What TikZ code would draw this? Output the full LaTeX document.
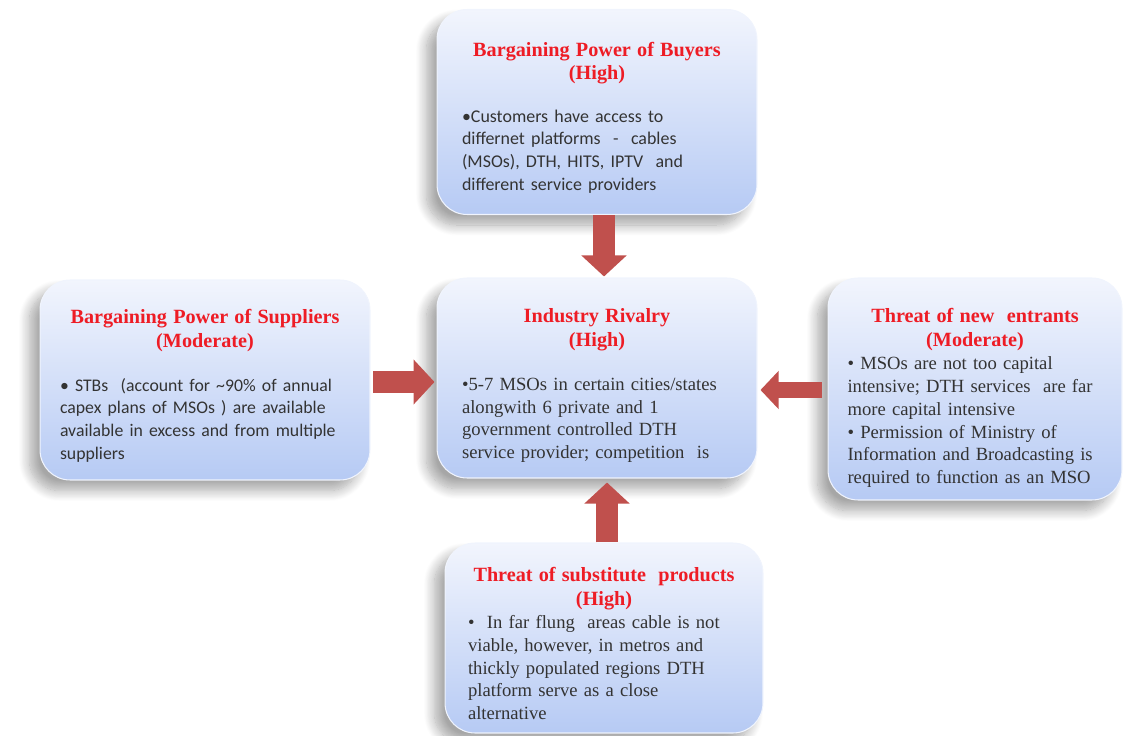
\documentclass[tikz,border=0pt]{standalone}
\usepackage{fontspec}
\setmainfont{Liberation Serif}
\newfontfamily\calibri{Carlito}
\usetikzlibrary{arrows.meta,shadows.blur}
\definecolor{boxtop}{HTML}{F2F5FD}
\definecolor{boxbot}{HTML}{B6CAF4}
\definecolor{forcered}{HTML}{EE1C25}
\definecolor{pointred}{HTML}{C0504D}
\definecolor{bodygray}{HTML}{333333}
\newcommand\forcetitle[2]{\par\vspace*{-\parskip}{\centering\color{forcered}\fontsize{11.5}{13.6}\selectfont\bfseries #1\\(#2)\par}}

\begin{document}
\begin{tikzpicture}
[x=0.02cm,y=-0.02cm,
 force/.style={rounded corners=0.6cm, top color=boxtop, bottom color=boxbot,
   draw=white!80!boxbot, line width=0.6pt, inner sep=0pt, align=left, text=bodygray,
   font=\fontsize{10.6}{13}\selectfont,
   blur shadow={shadow xshift=-6pt, shadow yshift=-6pt, shadow blur radius=6pt,
     shadow blur steps=14, shadow opacity=35}},
 pointer/.style={draw=pointred, line width=0.44cm, -{Triangle[width=0.88cm,length=0.42cm]}},
 slimpointer/.style={draw=pointred, line width=0.34cm, -{Triangle[width=0.74cm,length=0.36cm]}}]
\useasboundingbox (0,0) rectangle (1125,736);

\node[force, minimum width=6.4cm, minimum height=4.1cm, text width=5.4cm] (buyers) at (597,112)
  {\par\vspace*{1pt}\forcetitle{Bargaining Power of Buyers}{High}\vspace{11pt}
   {\calibri\fontsize{10.2}{13}\selectfont •Customers have access to\\
   differnet platforms~~-~~cables\\
   (MSOs), DTH, HITS, IPTV~ and\\
   different service providers}};
\node[force, minimum width=6.6cm, minimum height=4cm, text width=5.8cm] (suppliers) at (205,380)
  {\par\vspace*{1pt}\forcetitle{Bargaining Power of Suppliers}{Moderate}\vspace{12pt}
   {\calibri\fontsize{10.1}{13}\selectfont • STBs~ (account for \textasciitilde 90\% of annual\\
   capex plans of MSOs ) are available\\
   available in excess and from multiple\\
   suppliers}};
\node[force, minimum width=6.4cm, minimum height=4cm, text width=5.4cm] (rivalry) at (597,378)
  {\par\vspace*{3pt}\forcetitle{Industry Rivalry}{High}\vspace{12pt}
   •5-7 MSOs in certain cities/states\\
   alongwith 6 private and 1\\
   government controlled DTH\\
   service provider; competition~ is};
\node[force, minimum width=5.88cm, minimum height=4.44cm, text width=5.1cm] (entrants) at (975,389)
  {\par\vspace*{5pt}\forcetitle{Threat of new~ entrants}{Moderate}
   • MSOs are not too capital\\
   intensive; DTH services~ are far\\
   more capital intensive\\
   • Permission of Ministry of\\
   Information and Broadcasting is\\
   required to function as an MSO};
\node[force, minimum width=6.36cm, minimum height=3.8cm, text width=5.44cm] (substitutes) at (604,638)
  {\par\vspace*{1pt}\forcetitle{Threat of substitute~ products}{High}
   •~ In far flung~ areas cable is not\\
   viable, however, in metros and\\
   thickly populated regions DTH\\
   platform serve as a close\\
   alternative};

\coordinate (topaxis) at (604,0);
\coordinate (leftaxis) at (0,382);
\coordinate (rightaxis) at (0,390);
\coordinate (bottomaxis) at (607,0);
\draw[pointer] (buyers.south -| topaxis) -- ([yshift=0.02cm]rivalry.north -| topaxis);
\draw[pointer, shorten <=0.06cm] (suppliers.east |- leftaxis) -- ([xshift=-0.04cm]rivalry.west |- leftaxis);
\draw[slimpointer, shorten <=0.12cm] (entrants.west |- rightaxis) -- ([xshift=0.06cm]rivalry.east |- rightaxis);
\draw[pointer] (substitutes.north -| bottomaxis) -- ([yshift=-0.08cm]rivalry.south -| bottomaxis);
\end{tikzpicture}
\end{document}
